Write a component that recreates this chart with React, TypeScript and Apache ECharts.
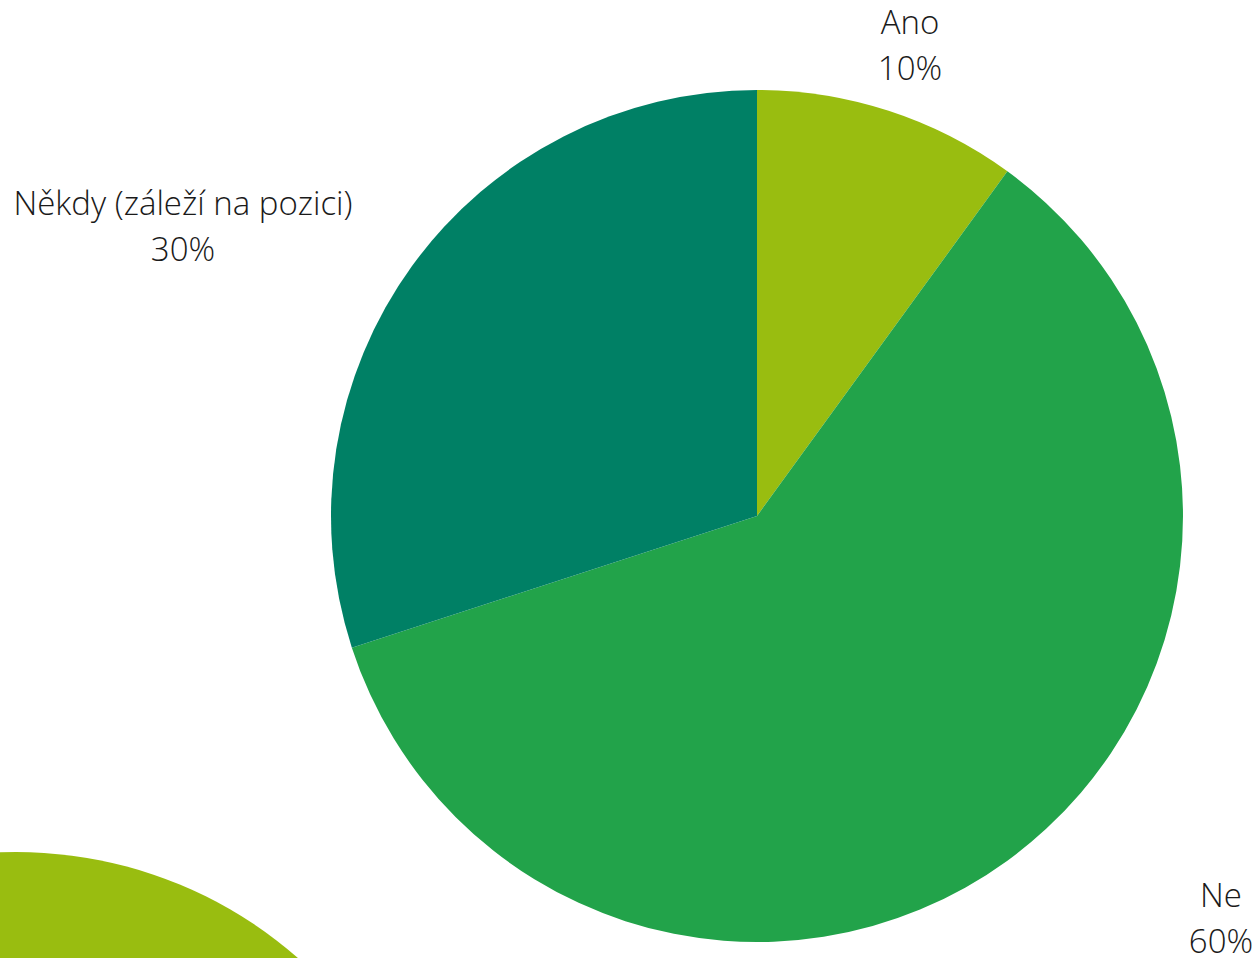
import React, { useEffect, useRef } from "react";
import * as echarts from "echarts";

const categories = ["Ano", "Ne", "Někdy (záleží na pozici)"];
const values = [10, 60, 30];
const colors = ["#99BD10", "#22A34A", "#008065"];

const labelPos = [
  { x: 910, y: 44 },
  { x: 1221, y: 917 },
  { x: 183, y: 225 },
];

export default function App() {
  const ref = useRef<HTMLDivElement>(null);
  useEffect(() => {
    if (!ref.current) return;
    const chart = echarts.init(ref.current, null, { renderer: "svg" });
    chart.setOption({
      animation: false,
      backgroundColor: "#ffffff",
      graphic: [
        {
          type: "circle",
          z: 0,
          shape: { cx: 16, cy: 1280, r: 428 },
          style: { fill: "#99BD10" },
        },
      ],
      series: [
        {
          type: "pie",
          center: [757, 516],
          radius: 426,
          startAngle: 90,
          clockwise: true,
          avoidLabelOverlap: false,
          data: categories.map((c, i) => ({
            name: c,
            value: values[i],
            itemStyle: { color: colors[i] },
          })),
          label: {
            show: true,
            position: "outside",
            formatter: "{b}\n{d}%",
            fontFamily: "Open Sans",
            fontWeight: 300,
            fontSize: 33,
            lineHeight: 46,
            color: "#1a1a1a",
            align: "center",
          },
          labelLine: { show: false },
          labelLayout: (params: any) => {
            const p = labelPos[params.dataIndex];
            return { x: p.x, y: p.y, align: "center", verticalAlign: "middle" };
          },
          emphasis: { disabled: true },
        },
      ],
    });
    return () => chart.dispose();
  }, []);
  return (
    <div
      ref={ref}
      style={{ position: "absolute", left: 0, top: 0, width: 1259, height: 958 }}
    />
  );
}
